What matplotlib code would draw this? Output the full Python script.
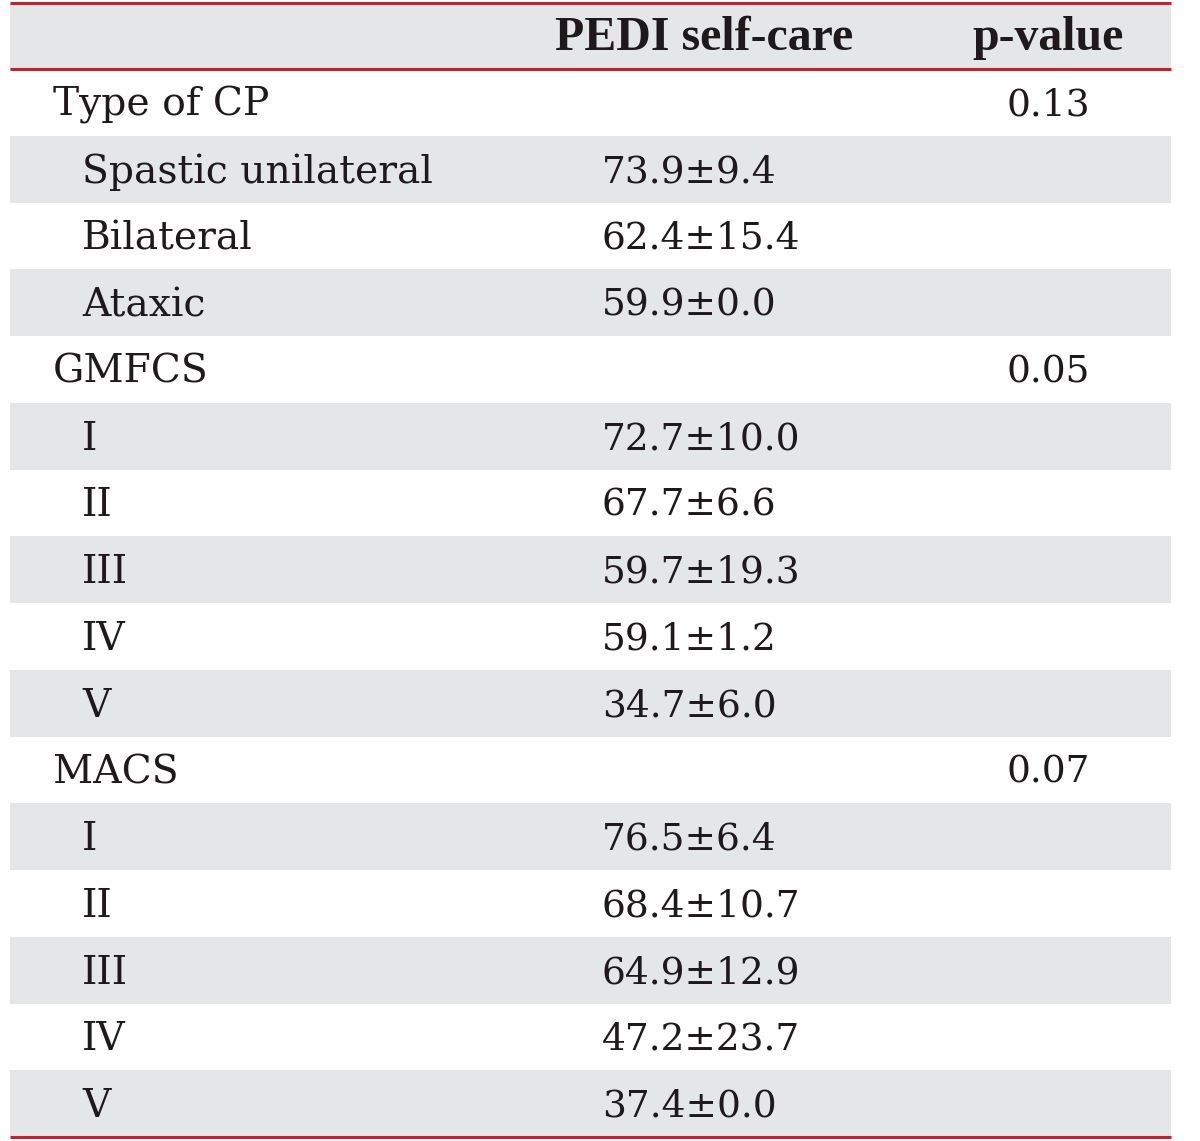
import matplotlib
matplotlib.use("Agg")
import matplotlib.pyplot as plt
from matplotlib.patches import Rectangle

# --- table content ---
headers = ["PEDI self-care", "p-value"]
row_labels = ["Type of CP", "Spastic unilateral", "Bilateral", "Ataxic",
              "GMFCS", "I", "II", "III", "IV", "V",
              "MACS", "I", "II", "III", "IV", "V"]
is_group = [True, False, False, False,
            True, False, False, False, False, False,
            True, False, False, False, False, False]
pedi_values = ["", "73.9±9.4", "62.4±15.4", "59.9±0.0",
               "", "72.7±10.0", "67.7±6.6", "59.7±19.3", "59.1±1.2", "34.7±6.0",
               "", "76.5±6.4", "68.4±10.7", "64.9±12.9", "47.2±23.7", "37.4±0.0"]
p_values = ["0.13", "", "", "",
            "0.05", "", "", "", "", "",
            "0.07", "", "", "", "", ""]

RED = "#C42230"
GREY = "#E5E6E8"
TEXT = "#1E1A1B"

W, H = 1200, 1141
fig = plt.figure(figsize=(W / 100, H / 100), dpi=100)
ax = fig.add_axes([0, 0, 1, 1])
ax.set_xlim(0, W)
ax.set_ylim(H, 0)
ax.axis("off")

left, right = 10, 1171
top, head_bot = 3, 69
row_h = (1137 - head_bot) / len(row_labels)

# header band
ax.add_patch(Rectangle((left, top), right - left, head_bot - top,
                       facecolor=GREY, edgecolor="none"))
ax.text(704, 38, headers[0], ha="center", va="center", fontsize=34.5,
        fontweight="bold", family="Liberation Serif", color=TEXT)
ax.text(1048, 38, headers[1], ha="center", va="center", fontsize=34.5,
        fontweight="bold", family="Liberation Serif", color=TEXT)

for i, lab in enumerate(row_labels):
    y0 = head_bot + i * row_h
    if i % 2 == 1:
        ax.add_patch(Rectangle((left, y0), right - left, row_h,
                               facecolor=GREY, edgecolor="none"))
    yc = y0 + row_h / 2 + 3
    x = 53 if is_group[i] else 82
    ax.text(x, yc, lab, ha="left", va="center", fontsize=28.3,
            family="DejaVu Serif", color=TEXT)
    if pedi_values[i]:
        ax.text(602, yc, pedi_values[i], ha="left", va="center", fontsize=27,
                family="DejaVu Serif", color=TEXT)
    if p_values[i]:
        ax.text(1048, yc, p_values[i], ha="center", va="center", fontsize=27,
                family="DejaVu Serif", color=TEXT)

for y in (top, head_bot, head_bot + len(row_labels) * row_h):
    ax.plot([left, right], [y, y], color=RED, lw=2.2, solid_capstyle="butt")

fig.savefig("out.png", dpi=100)
